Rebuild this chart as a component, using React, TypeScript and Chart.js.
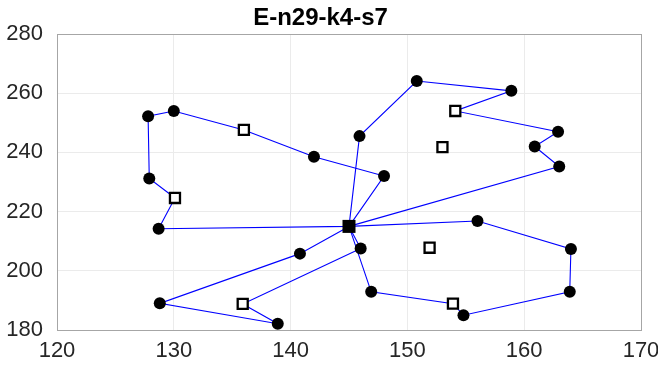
import React, { useEffect, useRef } from 'react';
import { Chart, registerables } from 'chart.js';

Chart.register(...registerables);

const TITLE = 'E-n29-k4-s7';
const X_MIN = 120;
const X_MAX = 170;
const X_STEP = 10;
const Y_MIN = 180;
const Y_MAX = 280;
const Y_STEP = 20;

// depot
const depotX = [145];
const depotY = [215];

// routes (depot -> ... -> depot)
const route1X = [145, 148, 142, 136, 130, 127.8, 127.9, 130.1, 128.7, 145];
const route1Y = [215, 232, 238.5, 247.6, 254, 252.2, 231.2, 224.6, 214.2, 215];
const route2X = [145, 145.9, 150.8, 158.9, 154.1, 162.9, 160.9, 163, 145];
const route2Y = [215, 245.5, 264.1, 260.8, 254, 247, 242, 235.2, 215];
const route3X = [145, 146.9, 153.9, 154.8, 163.9, 164, 156, 145];
const route3Y = [215, 192.9, 188.9, 185, 192.9, 207.4, 216.8, 215];
const route4X = [145, 146, 135.9, 138.9, 128.8, 140.8, 145];
const route4Y = [215, 207.5, 188.8, 182.1, 189, 205.8, 215];

// customers (filled circles)
const customerX = [148, 142, 130, 127.8, 127.9, 128.7, 145.9, 150.8, 158.9, 162.9, 160.9, 163, 146.9, 154.8, 163.9, 164, 156, 146, 138.9, 128.8, 140.8];
const customerY = [232, 238.5, 254, 252.2, 231.2, 214.2, 245.5, 264.1, 260.8, 247, 242, 235.2, 192.9, 185, 192.9, 207.4, 216.8, 207.5, 182.1, 189, 205.8];

// satellites (open squares)
const satelliteX = [136, 130.1, 154.1, 153, 153.9, 151.9, 135.9];
const satelliteY = [247.6, 224.6, 254, 241.8, 188.9, 207.8, 188.8];

const FONT = '"Liberation Sans", Arial, Helvetica, sans-serif';
const LINE_COLOR = '#0000ff';

function pts(xs: number[], ys: number[]) {
  return xs.map((x, i) => ({ x, y: ys[i] }));
}

const boxPlugin = {
  id: 'boxPlugin',
  beforeDatasetsDraw(chart: any) {
    const { ctx, chartArea } = chart;
    ctx.save();
    ctx.strokeStyle = '#a6a6a6';
    ctx.lineWidth = 1;
    ctx.strokeRect(
      Math.round(chartArea.left) + 0.5,
      Math.round(chartArea.top) + 0.5,
      Math.round(chartArea.right - chartArea.left),
      Math.round(chartArea.bottom - chartArea.top)
    );
    ctx.restore();
  },
};

export default function App() {
  const ref = useRef<HTMLCanvasElement | null>(null);

  useEffect(() => {
    if (!ref.current) return;
    const routeDs = (xs: number[], ys: number[]) => ({
      type: 'scatter' as const,
      data: pts(xs, ys),
      showLine: true,
      borderColor: LINE_COLOR,
      borderWidth: 1.1,
      pointRadius: 0,
      pointHoverRadius: 0,
      fill: false,
      tension: 0,
    });
    const chart = new Chart(ref.current, {
      type: 'scatter',
      data: {
        datasets: [
          {
            data: pts(depotX, depotY),
            pointStyle: 'rect',
            pointRadius: 9.2,
            backgroundColor: '#000000',
            borderColor: '#000000',
            borderWidth: 0,
          },
          {
            data: pts(satelliteX, satelliteY),
            pointStyle: 'rect',
            pointRadius: 7.1,
            backgroundColor: '#ffffff',
            borderColor: '#000000',
            borderWidth: 2.3,
          },
          {
            data: pts(customerX, customerY),
            pointStyle: 'circle',
            pointRadius: 6,
            backgroundColor: '#000000',
            borderColor: '#000000',
            borderWidth: 0,
          },
          routeDs(route1X, route1Y),
          routeDs(route2X, route2Y),
          routeDs(route3X, route3Y),
          routeDs(route4X, route4Y),
        ] as any,
      },
      options: {
        animation: false,
        responsive: false,
        maintainAspectRatio: false,
        events: [],
        layout: { padding: { left: 0, right: 17, top: 0, bottom: 0 } },
        plugins: {
          legend: { display: false },
          tooltip: { enabled: false },
          title: {
            display: true,
            text: TITLE,
            color: '#000000',
            font: { family: FONT, size: 24, weight: 'bold' },
            padding: { top: 4, bottom: 1.2 },
          },
        },
        scales: {
          x: {
            type: 'linear',
            min: X_MIN,
            max: X_MAX,
            ticks: {
              stepSize: X_STEP,
              color: '#262626',
              font: { family: FONT, size: 22 },
              padding: 8,
              maxRotation: 0,
            },
            grid: { color: '#ebebeb', drawTicks: false },
            border: { display: false },
            afterFit: (scale: any) => {
              scale.height = 39;
              scale.paddingLeft = 0;
              scale.paddingRight = 0;
            },
          },
          y: {
            type: 'linear',
            min: Y_MIN,
            max: Y_MAX,
            ticks: {
              stepSize: Y_STEP,
              color: '#262626',
              font: { family: FONT, size: 22 },
              padding: 14,
            },
            grid: { color: '#ebebeb', drawTicks: false },
            border: { display: false },
            afterFit: (scale: any) => {
              scale.width = 57;
              scale.paddingTop = 0;
              scale.paddingBottom = 0;
            },
          },
        },
      } as any,
      plugins: [boxPlugin],
    });
    return () => chart.destroy();
  }, []);

  return (
    <div style={{ position: 'fixed', left: 0, top: 0, width: 658, height: 369, background: '#ffffff' }}>
      <canvas ref={ref} width={658} height={369} style={{ width: 658, height: 369, display: 'block' }} />
    </div>
  );
}
